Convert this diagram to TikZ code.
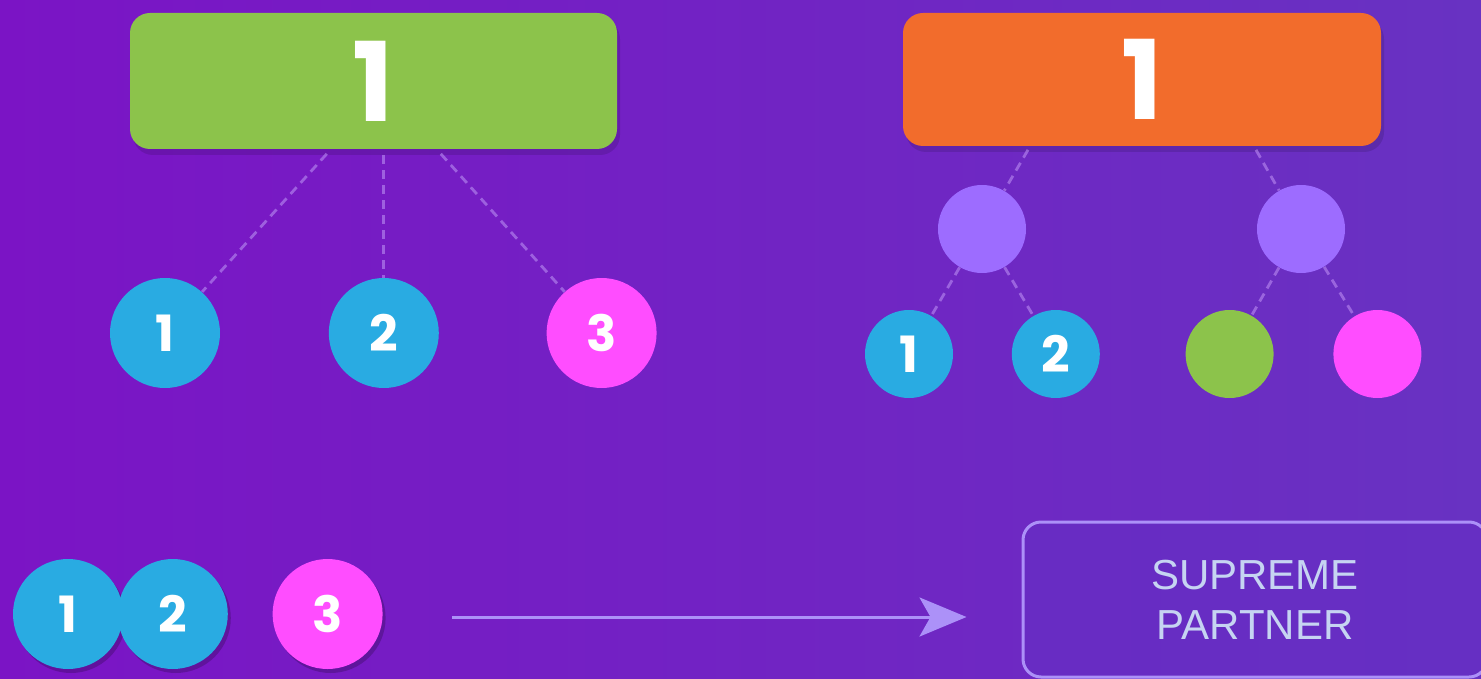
\documentclass[tikz,border=0pt]{standalone}
\usepackage{fontspec}
\setmainfont{Liberation Sans}
\newfontfamily\numfont{Poppins}
\usepackage{tikz}
\usetikzlibrary{arrows.meta, positioning, shadows}
\usepackage{xcolor}
\definecolor{bgleft}{RGB}{123,20,197}
\definecolor{bgright}{RGB}{104,50,194}
\definecolor{leafgreen}{RGB}{140,195,75}
\definecolor{flame}{RGB}{242,108,44}
\definecolor{sky}{RGB}{41,171,226}
\definecolor{pinky}{RGB}{255,77,255}
\definecolor{lilac}{RGB}{157,108,255}
\definecolor{linkcol}{RGB}{175,125,235}
\definecolor{arrowcol}{RGB}{172,145,248}
\definecolor{partnerfill}{RGB}{101,46,196}
\definecolor{partnertext}{RGB}{198,212,242}
\tikzset{
    bigbox/.style={rectangle, rounded corners=10pt, inner sep=0pt, text=white, font=\numfont\bfseries\fontsize{55}{55}\selectfont, drop shadow={shadow xshift=1.5pt, shadow yshift=-3pt, opacity=0.12, fill=black}},
    ball/.style={circle, inner sep=0pt, minimum size=55pt, text=white, font=\numfont\bfseries\fontsize{25}{25}\selectfont},
    smallball/.style={ball, minimum size=44pt},
    shadowball/.style={ball, drop shadow={shadow xshift=1.5pt, shadow yshift=-2pt, opacity=0.2, fill=black}},
    link/.style={draw=linkcol, draw opacity=0.7, line width=1.4pt, dash pattern=on 4.5pt off 3pt},
    arrow/.style={draw=arrowcol, line width=1.5pt, -{Stealth[length=23.5pt, width=19.5pt, inset=5.5pt]}},
    partner/.style={rectangle, rounded corners=9pt, draw=arrowcol, line width=1.5pt, fill=partnerfill, fill opacity=0.6, text opacity=1, text=partnertext, align=center, font=\fontsize{21}{25}\selectfont, minimum width=232pt, minimum height=77.5pt}
}
\begin{document}
\begin{tikzpicture}[x=0.5pt, y=-0.5pt]
    % Background
    \path[use as bounding box, clip] (0,0) rectangle (1481,679);
    \shade[left color=bgleft, right color=bgright] (0,0) rectangle (1481,679);

    % Left tree
    \node (G) [bigbox, fill=leafgreen, minimum width=243.5pt, minimum height=68pt] at (373.5,81) {1};
    \node (c1) [ball, fill=sky] at (165,333) {1};
    \node (c2) [ball, fill=sky, right=54pt of c1] {2};
    \node (c3) [ball, fill=pinky, right=53.5pt of c2] {3};
    \draw [link, shorten <=3pt] ([xshift=-26.5pt]G.south -| c2) -- (c1);
    \draw [link, shorten <=3pt] (G.south -| c2) -- (c2);
    \draw [link, shorten <=3pt] ([xshift=26.5pt]G.south -| c2) -- (c3);

    % Right tree
    \node (O) [bigbox, fill=flame, minimum width=239pt, minimum height=66.5pt] at (1142,79.5) {1};
    \node (P1) [smallball, fill=lilac] at (982,229) {};
    \node (P2) [smallball, fill=lilac] at (1301,229) {};
    \node (L1) [smallball, fill=sky] at (909,354) {1};
    \node (L2) [smallball, fill=sky, right=29pt of L1] {2};
    \node (L3) [smallball, fill=leafgreen, right=42.5pt of L2] {};
    \node (L4) [smallball, fill=pinky, right=29.5pt of L3] {};
    \draw [link, shorten <=2pt] ([xshift=-56pt]O.south) -- (P1);
    \draw [link, shorten <=2pt] ([xshift=56pt]O.south) -- (P2);
    \draw [link] (P1) -- (L1);
    \draw [link] (P1) -- (L2);
    \draw [link] (P2) -- (L3);
    \draw [link] (P2) -- (L4);

    % Bottom row
    \node (b1) [shadowball, fill=sky] at (68,614) {1};
    \node (b2) [shadowball, fill=sky, right=-3pt of b1] {2};
    \node (b3) [shadowball, fill=pinky, right=22pt of b2] {3};
    \node (SP) [partner] at (1255,599.5) {SUPREME\\PARTNER};
    \draw [arrow, shorten <=34.5pt, shorten >=27.5pt] ([yshift=-1.5pt]b3.east) -- ([yshift=-1.5pt]b3.east -| SP.west);
\end{tikzpicture}
\end{document}
